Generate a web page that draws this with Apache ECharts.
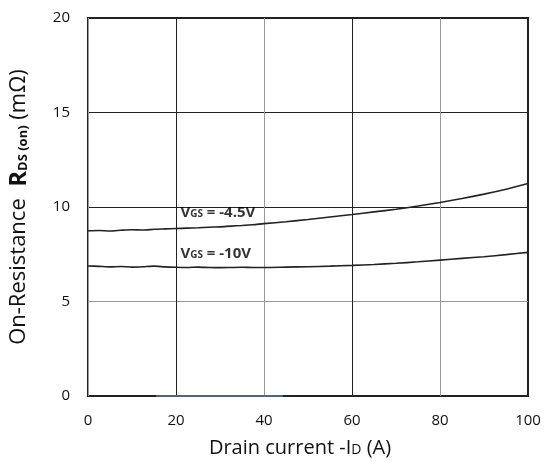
<!DOCTYPE html>
<html>
<head>
<meta charset="utf-8">
<script src="https://cdn.jsdelivr.net/npm/echarts@6/dist/echarts.min.js"></script>
<style>
  html, body { margin: 0; padding: 0; background: #fff; }
  #chart { width: 546px; height: 462px; }
</style>
</head>
<body>
<div id="chart"></div>
<script>
// Drain current -ID (A)
const currentVgs45 = [0, 2.5, 5, 7.5, 10, 12.5, 15, 17.5, 20, 22.5, 25, 27.5, 30, 32.5, 35, 37.5, 40, 45, 50, 55, 60, 65, 70, 75, 80, 85, 90, 95, 100];
// RDS(on) at VGS = -4.5V (mOhm)
const rdsVgs45 = [8.74, 8.76, 8.73, 8.77, 8.80, 8.78, 8.82, 8.84, 8.86, 8.88, 8.90, 8.93, 8.95, 8.99, 9.02, 9.06, 9.12, 9.22, 9.34, 9.47, 9.60, 9.74, 9.88, 10.05, 10.24, 10.45, 10.68, 10.94, 11.24];

const currentVgs10 = [0, 2.5, 5, 7.5, 10, 12.5, 15, 17.5, 20, 22.5, 25, 27.5, 30, 32.5, 35, 37.5, 40, 45, 50, 55, 60, 65, 70, 75, 80, 85, 90, 95, 100];
// RDS(on) at VGS = -10V (mOhm)
const rdsVgs10 = [6.88, 6.86, 6.83, 6.85, 6.82, 6.84, 6.87, 6.83, 6.81, 6.80, 6.82, 6.80, 6.79, 6.80, 6.81, 6.80, 6.80, 6.82, 6.84, 6.87, 6.91, 6.96, 7.02, 7.10, 7.19, 7.28, 7.37, 7.48, 7.60];

// short trace lying on the zero line
const currentLow = [15.5, 44.3];
const rdsLow = [0, 0];

// curve annotations: [x, y, text]
const curveLabels = [
  [21, 9.72, '{v|V}{s|GS}{v| = -4.5V}'],
  [21, 7.52, '{v|V}{s|GS}{v| = -10V}']
];

const xTicks = [0, 20, 40, 60, 80, 100];
const yTicks = [0, 5, 10, 15, 20];

const zip = (xs, ys) => xs.map((x, i) => [x, ys[i]]);

const FONT = '"Open Sans", "Noto Sans", sans-serif';
const chart = echarts.init(document.getElementById('chart'));

chart.setOption({
  animation: false,
  backgroundColor: '#ffffff',
  grid: {
    left: 88, right: 18, top: 18, bottom: 66,
    outerBoundsMode: 'none', containLabel: false,
    show: true, borderColor: '#222', borderWidth: 2, backgroundColor: 'transparent'
  },
  xAxis: {
    type: 'value',
    min: xTicks[0], max: xTicks[xTicks.length - 1], interval: 20,
    axisLine: { show: false },
    axisTick: { show: false },
    axisLabel: { color: '#111', fontFamily: FONT, fontSize: 15, margin: 17 },
    splitLine: { show: true, lineStyle: { color: ['#999', '#222'], width: 1 } },
    name: '{n|Drain current -I}{d|D}{n| (A)}',
    nameLocation: 'middle',
    nameGap: 42,
    nameTextStyle: {
      padding: [0, 16, 0, 0],
      rich: {
        n: { fontFamily: FONT, fontSize: 20, color: '#111' },
        d: { fontFamily: FONT, fontSize: 14, color: '#111', verticalAlign: 'bottom', padding: [0, 0, 1, 0] }
      }
    }
  },
  yAxis: {
    type: 'value',
    min: yTicks[0], max: yTicks[yTicks.length - 1], interval: 5,
    axisLine: { show: false },
    axisTick: { show: false },
    axisLabel: { color: '#111', fontFamily: FONT, fontSize: 15, margin: 18 },
    splitLine: { show: true, lineStyle: { color: ['#222', '#999', '#222', '#222', '#222'], width: 1 } },
    name: '{n|On-Resistance  }{r|R}{b|DS (on)}{n| (mΩ)}',
    nameLocation: 'middle',
    nameRotate: 90,
    nameGap: 57,
    nameTextStyle: {
      rich: {
        n: { fontFamily: FONT, fontSize: 22, color: '#111' },
        r: { fontFamily: FONT, fontSize: 24, fontWeight: 'bold', color: '#111' },
        b: { fontFamily: FONT, fontSize: 13, fontWeight: 'bold', color: '#111', verticalAlign: 'bottom', padding: [0, 0, 1, 0] }
      }
    }
  },
  series: [
    {
      type: 'line', data: zip(currentVgs45, rdsVgs45), showSymbol: false, smooth: 0.2,
      lineStyle: { color: '#222', width: 1.6 }, z: 5
    },
    {
      type: 'line', data: zip(currentVgs10, rdsVgs10), showSymbol: false, smooth: 0.2,
      lineStyle: { color: '#222', width: 1.6 }, z: 5
    },
    {
      type: 'line', data: zip(currentLow, rdsLow), showSymbol: false,
      lineStyle: { color: '#4d6587', width: 2 }, z: 6
    },
    {
      type: 'scatter', symbolSize: 0, silent: true, z: 7,
      data: curveLabels.map(l => ({ value: [l[0], l[1]], label: { formatter: l[2] } })),
      label: {
        show: true, position: 'right', distance: 0,
        rich: {
          v: { fontFamily: FONT, fontSize: 15, fontWeight: 'bold', color: '#000' },
          s: { fontFamily: FONT, fontSize: 10, fontWeight: 'bold', color: '#000', verticalAlign: 'bottom', padding: [0, 0, 1, 0] }
        }
      }
    }
  ]
});
</script>
</body>
</html>
